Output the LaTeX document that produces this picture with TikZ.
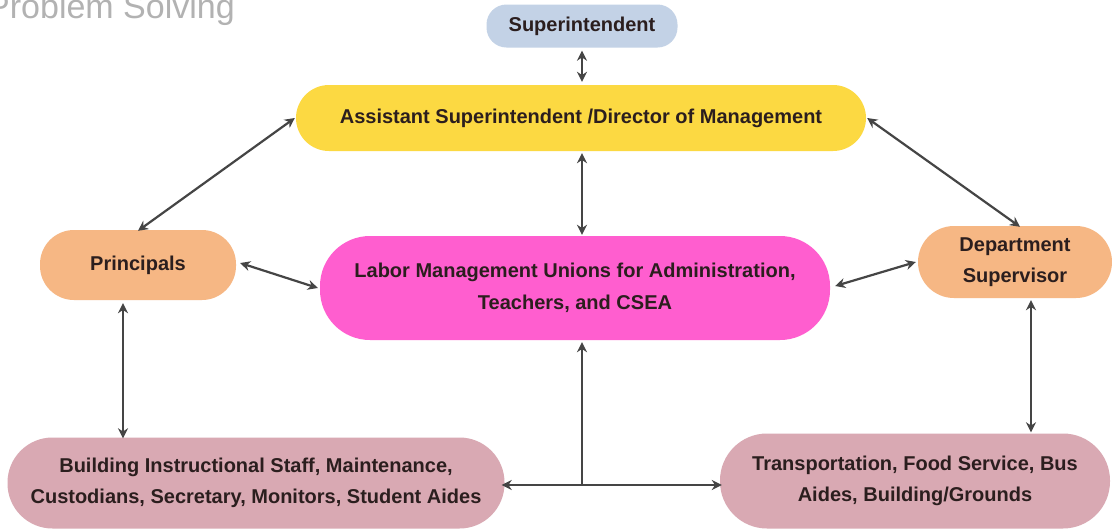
\documentclass[tikz,border=0pt]{standalone}
\usepackage{fontspec}
\setmainfont{Liberation Sans}
\usetikzlibrary{arrows.meta}
\definecolor{cblue}{HTML}{C3D2E6}
\definecolor{cyellow}{HTML}{FCD942}
\definecolor{corange}{HTML}{F6B784}
\definecolor{cmagenta}{HTML}{FF5ECF}
\definecolor{cpink}{HTML}{D9A9B3}
\definecolor{ctext}{HTML}{2B1E1E}
\definecolor{carrow}{HTML}{454545}
\tikzset{
  box/.style={rounded corners=#1, inner sep=0pt, align=center, text=ctext,
    font=\bfseries\fontsize{20}{31.5}\selectfont},
  conn/.style={draw=carrow, line width=2.2pt, {Stealth[length=10pt,width=10pt]}-{Stealth[length=10pt,width=10pt]}},
  oneway/.style={draw=carrow, line width=2.2pt, -{Stealth[length=10pt,width=10pt]}},
}
\begin{document}
\begin{tikzpicture}[x=1pt,y=-1pt]
\useasboundingbox (0,0) rectangle (1112,531);
\fill[white] (0,0) rectangle (1112,531);
\node[anchor=base west, inner sep=0pt, text=black!30, font=\fontsize{34}{34}\selectfont] (title) at (-13,18) {Problem Solving};
\node[box=20pt, fill=cblue, minimum width=191pt, minimum height=43pt] (sup) at (582,26) {Superintendent};
\node[box=33pt, fill=cyellow, minimum width=570pt, minimum height=66pt] (asst) at (581,118) {Assistant Superintendent /Director of Management};
\node[box=34pt, fill=corange, minimum width=196pt, minimum height=70pt] (prin) at (138,265) {Principals};
\node[box=50pt, fill=cmagenta, minimum width=510pt, minimum height=104pt] (labor) at (575,288) {Labor Management Unions for Administration,\\Teachers, and CSEA};
\node[box=36pt, fill=corange, minimum width=194pt, minimum height=72pt] (dept) at (1015,262) {Department\\Supervisor};
\node[box=45pt, fill=cpink, minimum width=497pt, minimum height=91pt] (build) at (256,483) {Building Instructional Staff, Maintenance,\\Custodians, Secretary, Monitors, Student Aides};
\node[box=47pt, fill=cpink, minimum width=390pt, minimum height=95pt] (trans) at (915,481) {Transportation, Food Service, Bus\\Aides, Building/Grounds};
\coordinate (j) at (582,485);
\draw[conn] ([yshift=-3pt]sup.south) -- ([yshift=3pt]asst.north -| sup.south);
\draw[conn] ([xshift=-1pt]asst.west) -- ([yshift=-1pt]prin.north);
\draw[conn] ([xshift=1pt]asst.east) -- ([xshift=5pt,yshift=-1pt]dept.north);
\draw[conn] ([yshift=-2pt]asst.south -| j) -- ([yshift=1pt]labor.north -| j);
\draw[conn] ([xshift=4pt,yshift=2pt]prin.east) -- ([xshift=-2pt]labor.west);
\draw[conn] ([xshift=5pt,yshift=2pt]labor.east) -- ([xshift=-2pt]dept.west);
\draw[conn] ([xshift=-15pt,yshift=-3pt]prin.south) -- ([xshift=-133pt,yshift=-1pt]build.north);
\draw[conn] ([xshift=16pt,yshift=-2pt]dept.south) -- ([xshift=116pt,yshift=1pt]trans.north);
\draw[oneway] (j) -- ([yshift=-2pt]labor.south -| j);
\draw[oneway] (j) -- ([xshift=-3pt]build.east |- j);
\draw[oneway] (j) -- ([xshift=2pt]trans.west |- j);
\end{tikzpicture}
\end{document}
